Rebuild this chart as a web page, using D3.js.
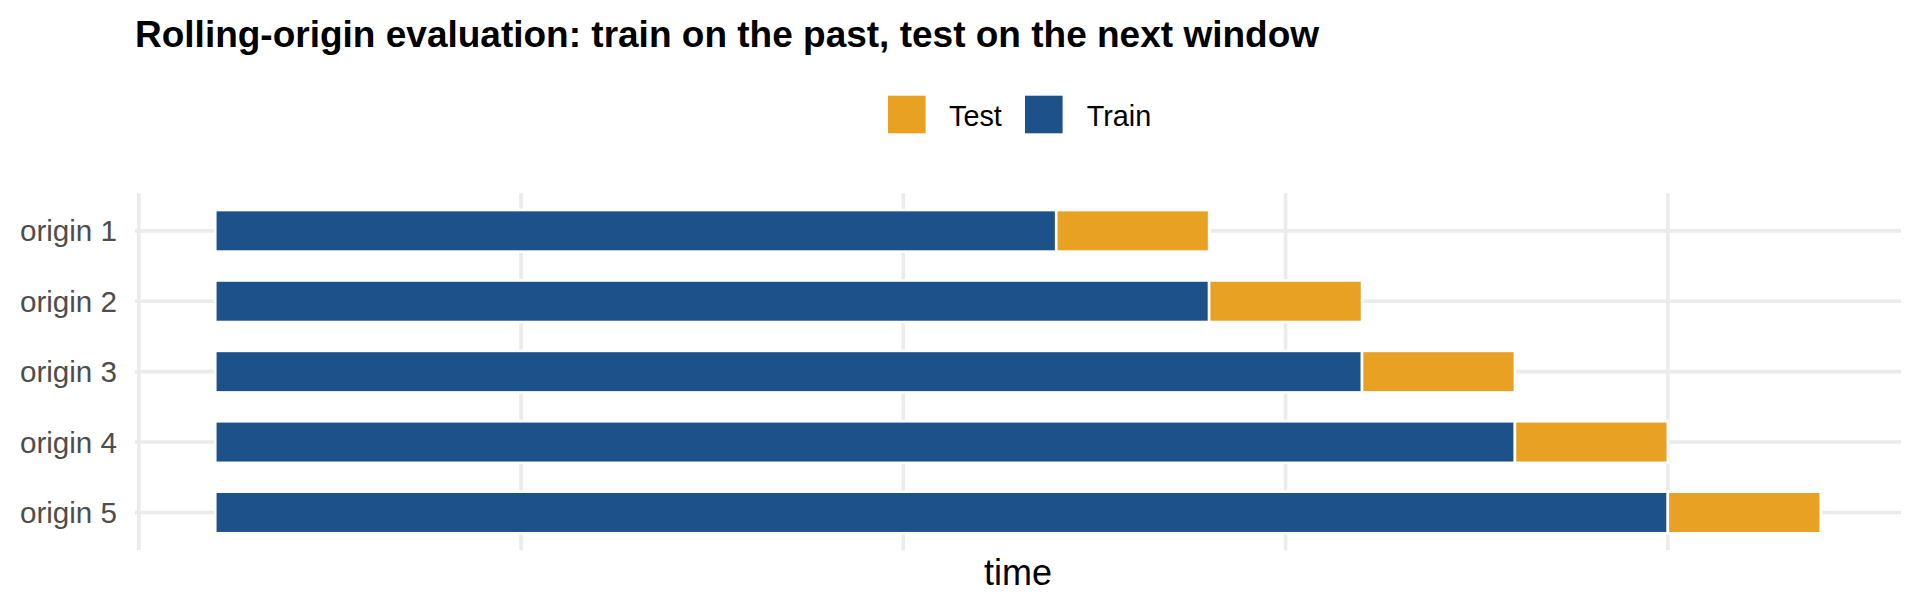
<!DOCTYPE html>
<html>
<head>
<meta charset="utf-8">
<script src="https://cdn.jsdelivr.net/npm/d3@7"></script>
<style>
  html, body { margin: 0; padding: 0; background: #fff; }
  svg { display: block; font-family: "Liberation Sans", Arial, sans-serif; }
</style>
</head>
<body>
<svg id="chart" width="1920" height="614"></svg>
<script>
// ---- data ----
const origins = ["origin 1", "origin 2", "origin 3", "origin 4", "origin 5"];
const trainStart = [5, 5, 5, 5, 5];
const trainEnd = [60, 70, 80, 90, 100];
const testEnd = [70, 80, 90, 100, 110];
const xBreaks = [0, 25, 50, 75, 100];
const legendLabels = ["Test", "Train"];
const titleText = "Rolling-origin evaluation: train on the past, test on the next window";
const xTitle = "time";

// ---- styles ----
const colors = { Train: "#1C518A", Test: "#E8A123" };
const gridColor = "#EBEBEB";

const svg = d3.select("#chart");
const panel = { left: 135, right: 1901, top: 193.3, bottom: 550 };

const lo = d3.min(trainStart), hi = d3.max(testEnd);
const pad = 0.05 * (hi - lo);
const x = d3.scaleLinear().domain([lo - pad, hi + pad]).range([panel.left, panel.right]);
const y = d3.scalePoint().domain(origins).range([panel.top, panel.bottom]).padding(0.533);
const barH = y.step() * 0.59;

// grid
const g = svg.append("g");
g.selectAll("line.v").data(xBreaks).enter().append("line")
  .attr("x1", d => x(d)).attr("x2", d => x(d))
  .attr("y1", panel.top).attr("y2", panel.bottom)
  .attr("stroke", gridColor).attr("stroke-width", 3.6);
g.selectAll("line.h").data(origins).enter().append("line")
  .attr("x1", panel.left).attr("x2", panel.right)
  .attr("y1", d => y(d)).attr("y2", d => y(d))
  .attr("stroke", gridColor).attr("stroke-width", 3.6);

// bars
const segs = [];
origins.forEach((o, i) => {
  segs.push({ o, type: "Train", a: trainStart[i], b: trainEnd[i] });
  segs.push({ o, type: "Test", a: trainEnd[i], b: testEnd[i] });
});
svg.append("g").selectAll("rect").data(segs).enter().append("rect")
  .attr("x", d => x(d.a)).attr("width", d => x(d.b) - x(d.a))
  .attr("y", d => y(d.o) - barH / 2).attr("height", barH)
  .attr("fill", d => colors[d.type])
  .attr("stroke", "#fff").attr("stroke-width", 2.6);

// y axis labels
svg.append("g").selectAll("text").data(origins).enter().append("text")
  .attr("x", 117).attr("y", d => y(d)).attr("dy", "0.36em")
  .attr("text-anchor", "end").attr("fill", "#4D4D4D")
  .attr("font-size", 29.6).text(d => d);

// x axis title
svg.append("text").attr("x", (panel.left + panel.right) / 2).attr("y", 585)
  .attr("text-anchor", "middle").attr("fill", "#000")
  .attr("font-size", 36).text(xTitle);

// title
svg.append("text").attr("x", 135).attr("y", 46.5)
  .attr("font-weight", "bold").attr("font-size", 37).attr("fill", "#000")
  .text(titleText);

// legend
const leg = svg.append("g");
const sq = 37.6;
const legX = [888, 1025];
const legTextX = [949, 1086.7];
legendLabels.forEach((lab, i) => {
  leg.append("rect").attr("x", legX[i]).attr("y", 95.7).attr("width", sq).attr("height", sq)
    .attr("fill", colors[lab]);
  leg.append("text").attr("x", legTextX[i]).attr("y", 125.7)
    .attr("font-size", 28.8).attr("fill", "#000").text(lab);
});
</script>
</body>
</html>
